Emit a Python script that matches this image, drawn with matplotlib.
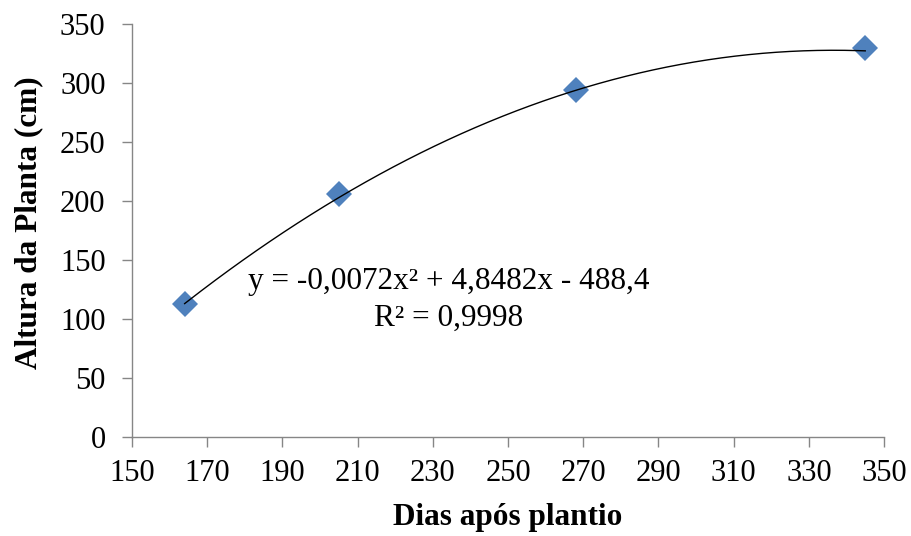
import numpy as np
import matplotlib.pyplot as plt

plt.rcParams["font.family"] = ["Liberation Serif", "DejaVu Serif"]

dias = [164, 205, 268, 345]
altura = [113, 206, 294, 330]
coef = [-0.0072, 4.8482, -488.4]  # trendline shown on the chart

x_ticks = list(range(150, 351, 20))
y_ticks = list(range(0, 351, 50))

fig = plt.figure(figsize=(9.11, 5.36), dpi=100)
ax = fig.add_axes([0.1449, 0.1847, 0.8255, 0.7705])

xs = np.linspace(min(dias), max(dias), 200)
ax.plot(dias, altura, linestyle="none", marker="D", markersize=13,
        color="#4F81BD", markeredgewidth=0, zorder=2)
ax.plot(xs, np.polyval(coef, xs), color="black", linewidth=1.0, zorder=3)

ax.set_xlim(150, 350)
ax.set_ylim(0, 350)
ax.set_xticks(x_ticks)
ax.set_yticks(y_ticks)

for side in ["top", "right"]:
    ax.spines[side].set_visible(False)
for side in ["left", "bottom"]:
    ax.spines[side].set_color("#868686")
    ax.spines[side].set_linewidth(1.0)
ax.tick_params(direction="out", length=7, width=1.0, color="#868686",
               labelsize=22)
ax.tick_params(axis="x", pad=9)
ax.tick_params(axis="y", pad=12)

ax.set_xlabel("Dias após plantio", fontsize=22.5, fontweight="bold", va="center")
ax.set_ylabel("Altura da Planta (cm)", fontsize=22.5, fontweight="bold", va="center")
ax.xaxis.set_label_coords(0.499, -0.194)
ax.yaxis.set_label_coords(-0.138, 0.518)

eq_x = 449 / 911
fig.text(eq_x, 1 - 281 / 536, "y = -0,0072x² + 4,8482x - 488,4",
         fontsize=22.5, ha="center", va="center")
fig.text(eq_x, 1 - 318 / 536, "R² = 0,9998",
         fontsize=22.5, ha="center", va="center")

fig.savefig("out.png", dpi=100)
